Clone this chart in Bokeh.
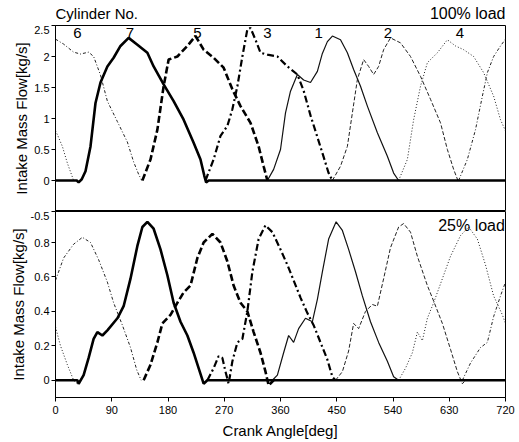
from bokeh.plotting import figure
from bokeh.layouts import column
from bokeh.models import FixedTicker, Range1d, Label
from bokeh.embed import file_html
from bokeh.resources import INLINE

nan = float("nan")

# ---------------- data ----------------
cylinders = ["7", "5", "3", "1", "2", "4", "6"]

# 100% load panel: crank angle [deg] and intake mass flow [kg/s]
full_cyl7_deg = [0, 34, 37, 42, 48, 56, 64, 72, 83, 93, 104, 117, 131, 147, 157, 173, 189, 205, 221, 232, 238, 241, 245, 720]
full_cyl7_flow = [0, 0, -0.03, 0.02, 0.15, 0.55, 1.25, 1.58, 1.84, 1.98, 2.17, 2.30, 2.19, 2.06, 1.84, 1.55, 1.28, 0.98, 0.61, 0.34, 0.08, -0.03, 0, 0]
full_cyl5_deg = [139, 152, 163, 173, 181, 195, 211, 224, 237, 253, 269, 283, 296, 312, 325, 333, 339]
full_cyl5_flow = [0, 0.34, 0.82, 1.52, 1.95, 2.0, 2.17, 2.33, 2.11, 1.98, 1.82, 1.47, 1.2, 0.93, 0.55, 0.23, 0]
full_cyl3_deg = [240, 253, 264, 275, 283, 291, 299, 307, 312, 320, 328, 339, 355, 371, 387, 397, 408, 419, 429, 437, 443]
full_cyl3_flow = [0, 0.34, 0.72, 0.88, 1.15, 1.52, 2.0, 2.44, 2.46, 2.27, 2.06, 2.03, 2.0, 1.84, 1.71, 1.45, 1.05, 0.7, 0.38, 0.12, 0]
full_cyl1_deg = [339, 349, 360, 368, 376, 387, 397, 408, 419, 427, 435, 443, 456, 467, 477, 488, 499, 515, 531, 541, 549]
full_cyl1_flow = [0, 0.18, 0.5, 1.09, 1.44, 1.71, 1.62, 1.58, 1.76, 2.05, 2.24, 2.33, 2.27, 2.06, 1.79, 1.52, 1.2, 0.77, 0.39, 0.12, 0]
full_cyl2_deg = [443, 456, 467, 475, 483, 493, 501, 509, 517, 525, 536, 552, 568, 584, 600, 616, 627, 637, 645]
full_cyl2_flow = [0, 0.23, 0.55, 1.09, 1.63, 1.95, 1.84, 1.71, 1.84, 2.11, 2.30, 2.22, 2.0, 1.68, 1.31, 0.93, 0.5, 0.18, -0.03]
full_cyl4_deg = [549, 563, 573, 584, 595, 611, 627, 640, 653, 669, 685, 701, 712, 720, nan, 0, 3, 11, 19, 29]
full_cyl4_flow = [0, 0.34, 0.98, 1.52, 1.9, 2.06, 2.27, 2.17, 2.11, 2.0, 1.74, 1.36, 0.98, 0.8, nan, 0.8, 0.74, 0.55, 0.28, 0]
full_cyl6_deg = [645, 659, 672, 683, 691, 701, 712, 720, nan, 0, 13, 29, 40, 53, 61, 72, 83, 99, 115, 125, 133, 138]
full_cyl6_flow = [0, 0.34, 0.82, 1.36, 1.74, 2.0, 2.17, 2.28, nan, 2.28, 2.2, 2.07, 2.04, 2.07, 2.0, 1.7, 1.28, 0.95, 0.62, 0.3, 0.1, 0]

# 25% load panel
part_cyl7_deg = [0, 35, 37, 45, 53, 61, 67, 75, 83, 99, 109, 120, 131, 139, 147, 157, 168, 179, 189, 200, 211, 221, 229, 237, 243, 720]
part_cyl7_flow = [0, 0, -0.02, 0.03, 0.13, 0.24, 0.28, 0.26, 0.29, 0.36, 0.43, 0.59, 0.78, 0.89, 0.92, 0.88, 0.76, 0.61, 0.45, 0.34, 0.26, 0.16, 0.07, -0.02, 0, 0]
part_cyl5_deg = [141, 152, 163, 171, 184, 195, 205, 216, 227, 237, 251, 264, 275, 285, 296, 307, 317, 328, 336, 341, 349]
part_cyl5_flow = [0, 0.09, 0.22, 0.33, 0.38, 0.45, 0.51, 0.55, 0.71, 0.80, 0.85, 0.80, 0.69, 0.55, 0.45, 0.40, 0.28, 0.16, 0.05, -0.03, 0]
part_cyl3_deg = [243, 253, 261, 267, 272, 277, 283, 291, 299, 307, 315, 325, 336, 347, 360, 371, 381, 392, 403, 413, 424, 435, 443, 448]
part_cyl3_flow = [0, 0.07, 0.14, 0.13, 0.05, -0.02, 0.11, 0.22, 0.24, 0.40, 0.63, 0.82, 0.90, 0.86, 0.76, 0.67, 0.58, 0.48, 0.39, 0.32, 0.22, 0.12, 0.02, 0]
part_cyl1_deg = [347, 355, 365, 373, 381, 389, 400, 411, 419, 427, 437, 449, 459, 469, 480, 491, 504, 517, 531, 541, 549]
part_cyl1_flow = [0, 0.03, 0.16, 0.26, 0.22, 0.30, 0.36, 0.34, 0.47, 0.63, 0.82, 0.92, 0.87, 0.76, 0.63, 0.49, 0.34, 0.22, 0.11, 0.02, 0]
part_cyl2_deg = [448, 459, 469, 477, 485, 496, 507, 515, 525, 536, 549, 557, 568, 579, 595, 605, 619, 632, 643, 651, 656]
part_cyl2_flow = [0, 0.05, 0.17, 0.33, 0.30, 0.40, 0.44, 0.43, 0.59, 0.77, 0.89, 0.91, 0.86, 0.72, 0.55, 0.46, 0.33, 0.18, 0.05, -0.02, 0]
part_cyl4_deg = [549, 560, 571, 579, 587, 595, 605, 619, 632, 648, 661, 675, 688, 701, 715, 720, nan, 0, 8, 19, 29, 35]
part_cyl4_flow = [0, 0.07, 0.16, 0.28, 0.23, 0.36, 0.45, 0.59, 0.72, 0.84, 0.89, 0.82, 0.67, 0.49, 0.38, 0.33, nan, 0.31, 0.2, 0.09, 0, -0.02]
part_cyl6_deg = [651, 664, 680, 691, 701, 712, 720, nan, 0, 13, 29, 43, 56, 69, 83, 93, 107, 120, 130, 137]
part_cyl6_flow = [0, 0.1, 0.19, 0.22, 0.37, 0.49, 0.57, nan, 0.58, 0.71, 0.79, 0.83, 0.80, 0.70, 0.57, 0.45, 0.32, 0.19, 0.06, 0]

full_ticks = [-0.5, 0, 0.5, 1, 1.5, 2, 2.5]
part_ticks = [0, 0.2, 0.4, 0.6, 0.8]
angle_ticks = [0, 90, 180, 270, 360, 450, 540, 630, 720]

full_series = {
    "7": (full_cyl7_deg, full_cyl7_flow), "5": (full_cyl5_deg, full_cyl5_flow),
    "3": (full_cyl3_deg, full_cyl3_flow), "1": (full_cyl1_deg, full_cyl1_flow),
    "2": (full_cyl2_deg, full_cyl2_flow), "4": (full_cyl4_deg, full_cyl4_flow),
    "6": (full_cyl6_deg, full_cyl6_flow),
}
part_series = {
    "7": (part_cyl7_deg, part_cyl7_flow), "5": (part_cyl5_deg, part_cyl5_flow),
    "3": (part_cyl3_deg, part_cyl3_flow), "1": (part_cyl1_deg, part_cyl1_flow),
    "2": (part_cyl2_deg, part_cyl2_flow), "4": (part_cyl4_deg, part_cyl4_flow),
    "6": (part_cyl6_deg, part_cyl6_flow),
}

# ---------------- styles ----------------
FONT = "Liberation Sans"
styles = {
    "7": dict(line_width=2.6, line_dash="solid", line_color="black"),
    "5": dict(line_width=2.6, line_dash="7 3", line_color="black"),
    "3": dict(line_width=2.2, line_dash="7 3 2 3", line_color="black"),
    "1": dict(line_width=1.2, line_dash="solid", line_color="#111111"),
    "2": dict(line_width=1.0, line_dash="4 2", line_color="#222222"),
    "4": dict(line_width=1.0, line_dash="1 2", line_color="#222222"),
    "6": dict(line_width=1.0, line_dash="3 2 1 2", line_color="#222222"),
}
draw_order = ["6", "4", "2", "1", "3", "5", "7"]

LEFT, RIGHT, FW, FH, HEAD = 55, 10, 450, 186, 25


def style_axes(p):
    p.xgrid.visible = False
    p.ygrid.visible = False
    p.outline_line_color = "black"
    p.outline_line_width = 1
    p.background_fill_color = "white"
    p.border_fill_color = "white"
    ax = p.yaxis[0]
    ax.axis_label = "Intake Mass Flow[kg/s]"
    ax.axis_label_text_font = FONT
    ax.axis_label_text_font_size = "15px"
    ax.axis_label_text_font_style = "normal"
    ax.axis_label_text_color = "black"
    ax.axis_label_standoff = 1
    ax.major_label_text_font = FONT
    ax.major_label_text_font_size = "11px"
    ax.major_label_text_color = "black"
    ax.major_label_standoff = 2
    ax.major_tick_out = 4
    ax.major_tick_in = 0
    ax.minor_tick_out = 0
    ax.minor_tick_in = 0
    ax.axis_line_color = "black"
    ax.major_tick_line_color = "black"


# header strip holding the texts above the upper panel (x in pixels from the panel's left edge)
head = figure(frame_width=FW, frame_height=HEAD, x_range=Range1d(0, FW),
              y_range=Range1d(0, HEAD), output_backend="svg", toolbar_location=None,
              x_axis_location=None, y_axis_location=None,
              min_border_left=LEFT, min_border_right=RIGHT, min_border_top=0, min_border_bottom=0)
head.xgrid.visible = False
head.ygrid.visible = False
head.outline_line_color = None
head.add_layout(Label(x=0, y=4, text="Cylinder No.", text_font=FONT, text_font_size="15px",
                      text_baseline="bottom", text_align="left", text_color="black"))
head.add_layout(Label(x=FW, y=4, text="100% load", text_font=FONT, text_font_size="16px",
                      text_baseline="bottom", text_align="right", text_color="black"))

top = figure(frame_width=FW, frame_height=FH, x_range=Range1d(0, 720), y_range=Range1d(-0.5, 2.5),
             output_backend="svg", toolbar_location=None, x_axis_location=None,
             min_border_left=LEFT, min_border_right=RIGHT, min_border_top=0, min_border_bottom=0)
style_axes(top)
# lowest tick label of the upper panel sits on the shared border; it is drawn by the lower panel's axis
top.yaxis.ticker = FixedTicker(ticks=full_ticks[1:])

bot_top = 0.98
bot = figure(frame_width=FW, frame_height=FH, x_range=Range1d(0, 720), y_range=Range1d(-0.1, bot_top),
             output_backend="svg", toolbar_location=None,
             min_border_left=LEFT, min_border_right=RIGHT, min_border_top=0, min_border_bottom=0)
style_axes(bot)
bot.yaxis.ticker = FixedTicker(ticks=part_ticks + [bot_top])
bot.yaxis.major_label_overrides = {bot_top: str(full_ticks[0])}
xa = bot.xaxis[0]
xa.ticker = FixedTicker(ticks=angle_ticks)
xa.axis_label = "Crank Angle[deg]"
xa.axis_label_text_font = FONT
xa.axis_label_text_font_size = "15px"
xa.axis_label_text_font_style = "normal"
xa.axis_label_text_color = "black"
xa.axis_label_standoff = 5
xa.major_label_text_font = FONT
xa.major_label_text_font_size = "11px"
xa.major_label_text_color = "black"
xa.major_label_standoff = 4
xa.major_tick_out = 4
xa.major_tick_in = 0
xa.minor_tick_out = 0
xa.minor_tick_in = 0
xa.axis_line_color = "black"

for c in draw_order:
    d, f = full_series[c]
    top.line(d, f, **styles[c])
    d, f = part_series[c]
    bot.line(d, f, **styles[c])

label_angles = {"6": 35, "7": 119, "5": 227, "3": 339, "1": 421, "2": 532, "4": 647}
for c in cylinders:
    top.add_layout(Label(x=label_angles[c], y=2.38, text=c, text_font=FONT, text_font_size="15px",
                         text_baseline="middle", text_align="center", text_color="black"))
bot.add_layout(Label(x=719, y=0.9, text="25% load", text_font=FONT, text_font_size="16px",
                     text_baseline="middle", text_align="right", text_color="black"))

layout = column(head, top, bot, spacing=0)
open("out.html", "w").write(file_html(layout, INLINE))
